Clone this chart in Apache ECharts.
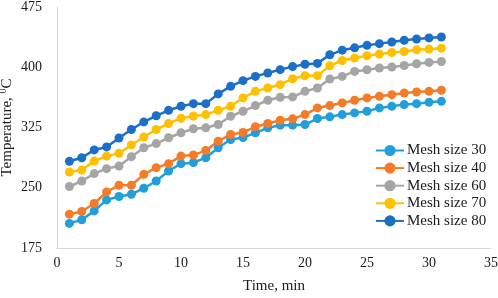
<!DOCTYPE html>
<html>
<head>
<meta charset="utf-8">
<script src="https://cdn.jsdelivr.net/npm/echarts@6/dist/echarts.min.js"></script>
<style>
  html, body { margin: 0; padding: 0; background: #fff; }
  #chart { width: 498px; height: 298px; }
</style>
</head>
<body>
<div id="chart"></div>
<script>
const time = [1, 2, 3, 4, 5, 6, 7, 8, 9, 10, 11, 12, 13, 14, 15, 16, 17, 18, 19, 20, 21, 22, 23, 24, 25, 26, 27, 28, 29, 30, 31];
const mesh30 = [205.6, 210.1, 221.2, 234.9, 239.1, 241.9, 249.4, 258.4, 270.8, 280, 281.2, 287.4, 299.8, 310, 312.5, 318.4, 324.6, 327.9, 327.9, 328.7, 336.2, 338.3, 341.1, 343.2, 345.2, 349.4, 351.4, 353.5, 354.7, 356.4, 357.6];
const mesh40 = [217.1, 220.5, 230.4, 244.8, 253.1, 253.1, 266.7, 275, 280, 289.4, 290.7, 296.5, 308, 316.3, 318.8, 325.9, 330, 334, 335.8, 341.1, 349.4, 352.3, 355.6, 358.9, 361.8, 363.8, 365.9, 368, 369.2, 370, 371.3];
const mesh60 = [251.5, 258.4, 267.6, 273.8, 277, 288.7, 299.8, 305, 312.2, 318.4, 323.4, 324.6, 328.7, 339, 345.2, 352.3, 358.9, 362.6, 363.1, 370, 374.2, 385.4, 388.6, 394.8, 396.9, 399, 400.3, 402.2, 404.3, 406, 407.2];
const mesh70 = [269.6, 272, 283.2, 289.4, 292.8, 303.3, 313.2, 322.5, 330, 336.5, 339.3, 341.1, 346.4, 351.4, 361.8, 370, 374.2, 378.3, 385.7, 389.5, 389.5, 401.9, 408.4, 411.4, 414.3, 416.4, 418.4, 419.6, 421.7, 422.6, 423.8];
const mesh80 = [282.9, 287.4, 297.1, 300.8, 312, 322.5, 332, 339.6, 346.4, 351.4, 354.7, 354.7, 366.8, 376.2, 383.3, 388.6, 392.8, 397, 400.8, 403.8, 404.8, 415.5, 421.3, 424.2, 427.3, 429.4, 431.5, 433.5, 435.2, 436.5, 437.7];
const seriesNames = ["Mesh size 30", "Mesh size 40", "Mesh size 60", "Mesh size 70", "Mesh size 80"];
const seriesColors = ["#229fda", "#f47b27", "#a5a5a5", "#ffc000", "#1b6fc6"];

const FONT = "Liberation Serif";
const chart = echarts.init(document.getElementById("chart"), null, { renderer: "canvas" });

const makeSeries = (name, vals, color) => ({
  name,
  type: "line",
  data: time.map((t, i) => [t, vals[i]]),
  symbol: "circle",
  symbolSize: 9,
  lineStyle: { width: 2.5, color },
  itemStyle: { color },
  animation: false,
});

chart.setOption({
  animation: false,
  textStyle: { fontFamily: FONT, color: "#1a1a1a" },
  grid: { left: 57, right: 7, top: 7, bottom: 50, containLabel: false, outerBoundsMode: "none" },
  legend: {
    orient: "vertical",
    left: 375,
    top: 143,
    padding: 0,
    itemWidth: 28,
    itemHeight: 14,
    itemGap: 2.6,
    textStyle: { fontFamily: FONT, fontSize: 15, lineHeight: 14, color: "#1a1a1a", padding: [0, 0, 0, -2] },
    data: seriesNames,
  },
  xAxis: {
    type: "value",
    min: 0,
    max: 35,
    interval: 5,
    name: "Time, min",
    nameLocation: "middle",
    nameGap: 31,
    nameMoveOverlap: false,
    nameTextStyle: { fontFamily: FONT, fontSize: 15, color: "#1a1a1a" },
    axisLine: { lineStyle: { color: "#d9d9d9", width: 1 } },
    axisTick: { show: false },
    splitLine: { show: false },
    axisLabel: { fontFamily: FONT, fontSize: 14, color: "#1a1a1a", margin: 8 },
  },
  yAxis: {
    type: "value",
    min: 175,
    max: 475,
    interval: 75,
    name: "Temperature, {sup|0}C",
    nameLocation: "middle",
    nameGap: 41,
    nameMoveOverlap: false,
    nameTextStyle: {
      fontFamily: FONT,
      fontSize: 15,
      color: "#1a1a1a",
      rich: {
        sup: { fontFamily: FONT, fontSize: 10, color: "#1a1a1a", verticalAlign: "top", lineHeight: 18 },
      },
    },
    axisLine: { show: true, lineStyle: { color: "#d9d9d9", width: 1 } },
    axisTick: { show: false },
    splitLine: { show: false },
    axisLabel: { fontFamily: FONT, fontSize: 14, color: "#1a1a1a", margin: 15 },
  },
  series: [
    makeSeries(seriesNames[0], mesh30, seriesColors[0]),
    makeSeries(seriesNames[1], mesh40, seriesColors[1]),
    makeSeries(seriesNames[2], mesh60, seriesColors[2]),
    makeSeries(seriesNames[3], mesh70, seriesColors[3]),
    makeSeries(seriesNames[4], mesh80, seriesColors[4]),
  ],
});
</script>
</body>
</html>
